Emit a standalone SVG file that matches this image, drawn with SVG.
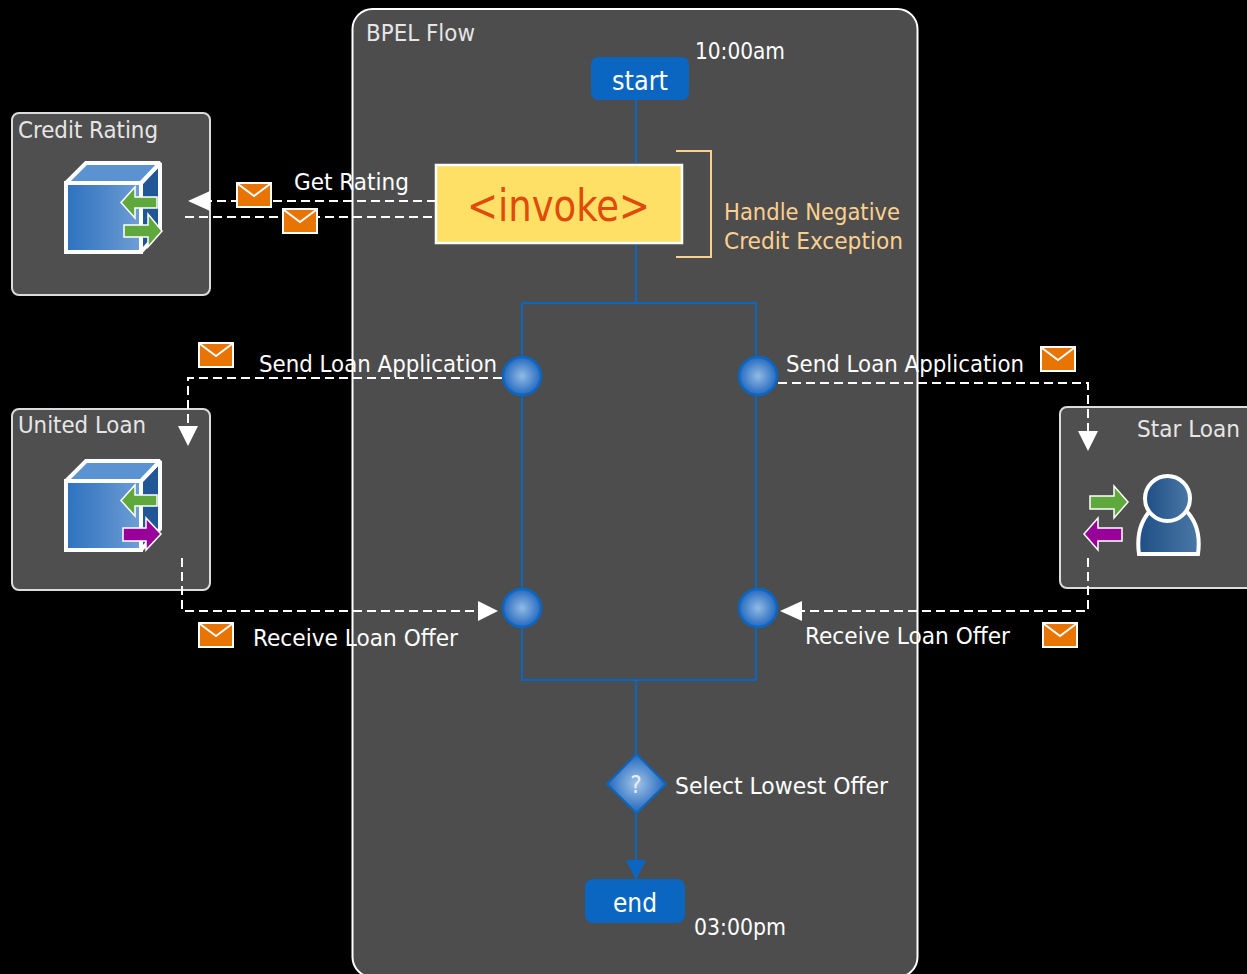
<svg xmlns="http://www.w3.org/2000/svg" xmlns:xlink="http://www.w3.org/1999/xlink" width="1247" height="974" viewBox="0 0 1247 974">
<style>
text{font-family:"DejaVu Sans","Liberation Sans",sans-serif;font-stretch:condensed;fill:#fff;font-size:23px}
.pl{fill:#e6e6e6}
.panel{fill:#4f4f4f;stroke:#dcdcdc;stroke-width:2}
.dash{fill:none;stroke:#fff;stroke-width:2;stroke-dasharray:9 5}
.ah{fill:#fff}
.bl{fill:none;stroke:#0b66c2;stroke-width:2}
.br{fill:#fcd08f}
.env{fill:#e87503;stroke:#fff;stroke-width:2}
.flap{fill:none;stroke:#fff;stroke-width:2}
.ag{fill:#5fa83c;stroke:#fff;stroke-width:1.5}
.ap{fill:#99009a;stroke:#fff;stroke-width:1.5}
.step{fill:#0b66c2}
.dot{fill:url(#rg);stroke:#0b66c2;stroke-width:2.5}
</style>
<defs>
<linearGradient id="cf"><stop offset="0" stop-color="#2d72c0"/><stop offset=".45" stop-color="#4a84c8"/><stop offset="1" stop-color="#6f9fd6"/></linearGradient>
<linearGradient id="pf"><stop offset="0" stop-color="#1f4e85"/><stop offset="1" stop-color="#4a78a6"/></linearGradient>
<radialGradient id="rg"><stop offset="0" stop-color="#92bbe4"/><stop offset="1" stop-color="#2469c0"/></radialGradient>
<radialGradient id="dg"><stop offset="0" stop-color="#a4c5e8"/><stop offset="1" stop-color="#1f66bd"/></radialGradient>
<g id="cube" stroke="#fff" stroke-width="4" stroke-linejoin="miter" stroke-miterlimit="1.5">
<path d="M141 183 160 163V231L141 252Z" fill="#215796"/>
<path d="M66 183 86 163H160L141 183Z" fill="#5b93d2"/>
<rect x="66" y="183" width="75" height="69" fill="url(#cf)"/>
</g>
<g id="env"><rect class="env" x="0" y="0" width="34" height="24"/><path class="flap" d="M1 1 17 13 33 1"/></g>
</defs>
<rect width="1247" height="974" fill="#000"/>

<g id="bpel-flow"><rect x="352.500" y="9" width="565" height="968" rx="20" fill="#4d4d4d" stroke="#fff" stroke-width="2"/>
<text x="366" y="41" textLength="109" lengthAdjust="spacingAndGlyphs" class="pl">BPEL Flow</text></g>

<g id="credit-rating"><rect class="panel" x="12" y="113" width="198" height="182" rx="7"/>
<text class="pl" x="18" y="138" textLength="140" lengthAdjust="spacingAndGlyphs">Credit Rating</text>
<use xlink:href="#cube" href="#cube"/>
<path class="ag" d="M121 202.500 135 187V197H157V208H135V218Z"/>
<path class="ag" d="M124 225H148V214L162 231 148 247V237H124Z"/></g>

<g id="united-loan"><rect class="panel" x="12" y="409" width="198" height="181" rx="7"/>
<text class="pl" x="18" y="433" textLength="128" lengthAdjust="spacingAndGlyphs">United Loan</text>
<use xlink:href="#cube" href="#cube" y="298"/>
<path class="ag" d="M121 500.500 135 485V495H157V506H135V516Z"/>
<path class="ap" d="M123 528H146V518L161 534 146 550V541H123Z"/></g>

<g id="star-loan"><rect class="panel" x="1060" y="407" width="200" height="181" rx="7"/>
<text class="pl" x="1137" y="437" textLength="103" lengthAdjust="spacingAndGlyphs">Star Loan</text>
<path d="M1139 554C1136 532 1142 518 1153 508H1183C1195 518 1201 532 1198 554Z" fill="url(#pf)" stroke="#fff" stroke-width="4"/>
<circle cx="1167.500" cy="498.500" r="22.500" fill="url(#pf)" stroke="#fff" stroke-width="4"/>
<path class="ag" d="M1090 496H1114V486L1128 502 1114 518V509H1090Z"/>
<path class="ap" d="M1084 534 1098 518V528H1122V541H1098V550Z"/></g>

<g id="connectors">
<path class="bl" d="M636 100V165M636 243V303"/>
<rect class="bl" x="522" y="303" width="234" height="377"/>
<path class="bl" d="M636 680V862"/>
<path d="M626 860H646L636 880Z" fill="#0b66c2"/>
<path class="dash" d="M436 201H209"/><path class="ah" d="M188 201 210 191V211Z"/>
<path class="dash" d="M185 217H436"/>
<path class="dash" d="M502 378H188V428"/><path class="ah" d="M178 426H198L188 446Z"/>
<path class="dash" d="M182 558V611H480"/><path class="ah" d="M478 601V621L498 611Z"/>
<path class="dash" d="M778 383H1088V432"/><path class="ah" d="M1078 431H1098L1088 451Z"/>
<path class="dash" d="M1088 558V611H800"/><path class="ah" d="M802 601V621L780 611Z"/>
</g>

<g id="start"><rect class="step" x="591" y="57" width="98" height="43" rx="7"/><text x="612" y="90" textLength="56" lengthAdjust="spacingAndGlyphs" style="font-size:26px">start</text></g>
<text x="695" y="59" textLength="90" lengthAdjust="spacingAndGlyphs">10:00am</text>

<g id="invoke"><rect x="436" y="165" width="246" height="78" fill="#ffe066" stroke="#fff" stroke-width="2.500"/>
<text x="467" y="221" textLength="183" lengthAdjust="spacingAndGlyphs" style="font-size:45px;fill:#e04a0a">&lt;invoke&gt;</text></g>
<g id="bracket"><path d="M676 151H711V257H676" fill="none" stroke="#fcd08f" stroke-width="2"/>
<text class="br" x="724" y="220" textLength="176" lengthAdjust="spacingAndGlyphs">Handle Negative</text>
<text class="br" x="724" y="249" textLength="179" lengthAdjust="spacingAndGlyphs">Credit Exception</text></g>

<text x="294" y="190" textLength="115" lengthAdjust="spacingAndGlyphs">Get Rating</text>
<text x="259" y="372" textLength="238" lengthAdjust="spacingAndGlyphs">Send Loan Application</text>
<text x="786" y="372" textLength="238" lengthAdjust="spacingAndGlyphs">Send Loan Application</text>
<text x="253" y="646" textLength="205" lengthAdjust="spacingAndGlyphs">Receive Loan Offer</text>
<text x="805" y="644" textLength="205" lengthAdjust="spacingAndGlyphs">Receive Loan Offer</text>

<use id="msg-1" xlink:href="#env" href="#env" x="237" y="183"/>
<use id="msg-2" xlink:href="#env" href="#env" x="283" y="209"/>
<use id="msg-3" xlink:href="#env" href="#env" x="199" y="343"/>
<use id="msg-4" xlink:href="#env" href="#env" x="199" y="623"/>
<use id="msg-5" xlink:href="#env" href="#env" x="1041" y="347"/>
<use id="msg-6" xlink:href="#env" href="#env" x="1043" y="623"/>

<g id="branch-1"><circle class="dot" cx="522" cy="376" r="19"/></g>
<g id="branch-2"><circle class="dot" cx="758" cy="376" r="19"/></g>
<g id="branch-3"><circle class="dot" cx="522" cy="608" r="19"/></g>
<g id="branch-4"><circle class="dot" cx="758" cy="608" r="19"/></g>

<g id="select"><path d="M636.500 754 666 784 636.500 813 607 784Z" fill="url(#dg)" stroke="#0b66c2" stroke-width="2"/>
<text x="636" y="793" text-anchor="middle" style="font-size:24px;fill:#e6eef8">?</text></g>
<text x="675" y="794" textLength="213" lengthAdjust="spacingAndGlyphs">Select Lowest Offer</text>

<g id="end"><rect class="step" x="585" y="879" width="100" height="44" rx="8"/><text x="613" y="912" textLength="44" lengthAdjust="spacingAndGlyphs" style="font-size:26px">end</text></g>
<text x="694" y="935" textLength="92" lengthAdjust="spacingAndGlyphs">03:00pm</text>
</svg>
